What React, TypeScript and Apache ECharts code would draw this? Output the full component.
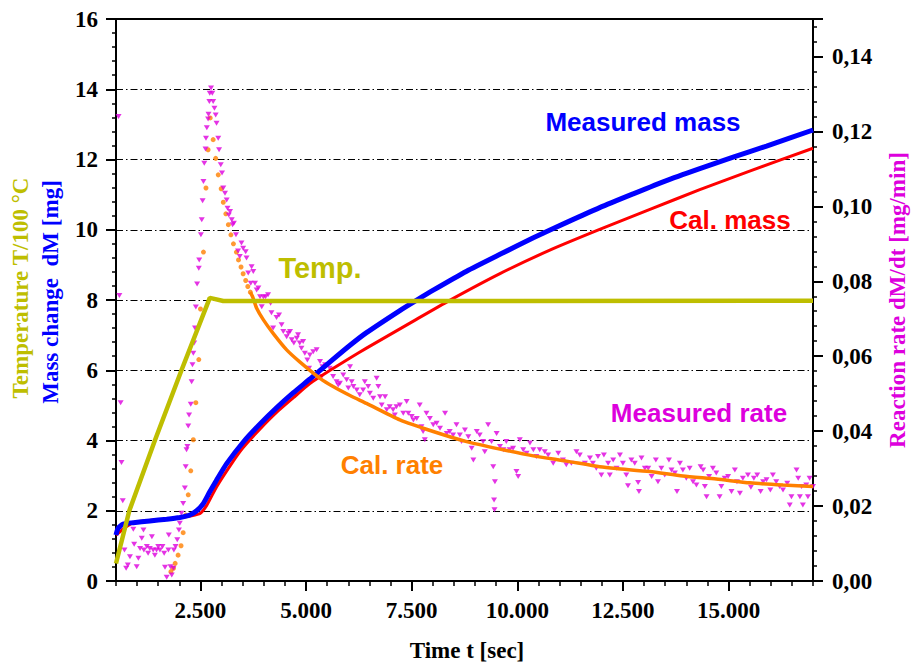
import React, { useEffect, useRef } from "react";
import * as echarts from "echarts";

// ---------- DATA ----------
const xMajorTicks = [2500, 5000, 7500, 10000, 12500, 15000];

const tempT = [500, 815, 1420, 2050, 2720, 2800, 3040, 3500, 17000];
const tempV = [0.5, 2.0, 4.0, 6.0, 8.06, 8.04, 7.97, 7.97, 7.98];

const measMassT = [500, 550, 670, 910, 1300, 1700, 2010, 2250, 2410, 2570, 2720, 2880, 3120, 3510, 3910, 4300, 4700, 5090, 5560, 6040, 6430, 7220, 7610, 8010, 8800, 9590, 10380, 11170, 11950, 12740, 13530, 14320, 15110, 15900, 17000];
const measMassV = [1.31, 1.5, 1.62, 1.66, 1.71, 1.76, 1.81, 1.88, 2.0, 2.21, 2.54, 2.87, 3.34, 3.95, 4.47, 4.93, 5.36, 5.75, 6.23, 6.71, 7.07, 7.7, 7.99, 8.28, 8.82, 9.3, 9.77, 10.21, 10.63, 11.02, 11.4, 11.74, 12.07, 12.38, 12.84];

const calMassT = [500, 910, 1700, 2010, 2250, 2490, 2650, 2880, 3280, 3510, 3910, 4300, 4700, 5090, 5560, 6040, 6430, 7540, 8400, 9590, 10770, 11950, 13140, 14320, 15500, 17000];
const calMassV = [1.31, 1.66, 1.76, 1.8, 1.85, 1.92, 2.16, 2.68, 3.42, 3.8, 4.33, 4.8, 5.22, 5.62, 5.99, 6.35, 6.63, 7.4, 7.99, 8.75, 9.42, 10.01, 10.58, 11.14, 11.67, 12.32];

const calRateDotT = [1800, 1860, 1900, 1970, 2040, 2090, 2150, 2210, 2270, 2330, 2390, 2460, 2500, 2570, 2630, 2680, 2730, 2800, 2860, 2920, 2990, 3040, 3100, 3160, 3220, 3280, 3350, 3400, 3460, 3510, 3570, 3620, 3680];
const calRateDotV = [0.0025, 0.0034, 0.0047, 0.0069, 0.0094, 0.0129, 0.0176, 0.023, 0.0294, 0.0377, 0.0476, 0.0591, 0.0726, 0.0878, 0.1049, 0.1151, 0.1236, 0.1178, 0.1128, 0.1084, 0.1047, 0.1011, 0.098, 0.0951, 0.0924, 0.09, 0.0878, 0.0857, 0.0838, 0.082, 0.0802, 0.0786, 0.0771];

const calRateT = [3680, 3740, 3830, 3990, 4220, 4540, 4850, 5330, 5640, 6040, 6430, 7220, 8010, 8800, 9590, 10380, 11160, 11950, 12350, 13140, 13920, 14710, 15500, 16290, 17000];
const calRateV = [0.0771, 0.0757, 0.0728, 0.0697, 0.0661, 0.0617, 0.0585, 0.0541, 0.0519, 0.0495, 0.0474, 0.043, 0.0399, 0.0372, 0.0352, 0.0334, 0.032, 0.0305, 0.03, 0.0292, 0.028, 0.0272, 0.0262, 0.0256, 0.0252];

const rateT = [560, 580, 610, 630, 660, 670, 700, 740, 780, 830, 910, 930, 990, 1030, 1070, 1110, 1150, 1160, 1230, 1260, 1300, 1350, 1380, 1420, 1460, 1500, 1540, 1600, 1640, 1660, 1700, 1740, 1750, 1790, 1820, 1860, 1870, 1910, 1950, 1990, 2010, 2050, 2090, 2130, 2150, 2170, 2190, 2210, 2230, 2270, 2290, 2310, 2330, 2350, 2370, 2390, 2420, 2460, 2470, 2510, 2530, 2550, 2570, 2590, 2620, 2630, 2650, 2680, 2690, 2710, 2720, 2750, 2780, 2800, 2830, 2860, 2880, 2920, 2940, 2980, 3010, 3040, 3080, 3120, 3140, 3170, 3200, 3240, 3260, 3290, 3340, 3390, 3430, 3470, 3510, 3570, 3590, 3630, 3690, 3710, 3750, 3790, 3830, 3870, 3910, 3950, 3990, 4040, 4100, 4160, 4180, 4220, 4300, 4360, 4420, 4460, 4540, 4580, 4620, 4660, 4710, 4780, 4810, 4850, 4890, 4930, 4970, 5030, 5070, 5090, 5170, 5250, 5330, 5370, 5390, 5450, 5560, 5640, 5720, 5760, 5800, 5880, 5960, 6000, 6040, 6080, 6120, 6200, 6270, 6350, 6390, 6470, 6510, 6590, 6670, 6710, 6750, 6790, 6870, 6910, 6980, 7060, 7100, 7140, 7220, 7300, 7380, 7420, 7500, 7540, 7620, 7690, 7730, 7770, 7810, 7850, 7930, 8010, 8090, 8170, 8290, 8330, 8400, 8480, 8560, 8640, 8680, 8760, 8840, 8920, 8960, 9040, 9110, 9190, 9230, 9310, 9390, 9430, 9450, 9460, 9470, 9510, 9590, 9670, 9740, 9820, 9900, 9980, 10020, 10060, 10140, 10220, 10300, 10380, 10450, 10530, 10650, 10730, 10850, 10970, 11080, 11160, 11280, 11400, 11480, 11600, 11720, 11790, 11870, 11910, 11990, 12050, 12150, 12190, 12270, 12350, 12430, 12500, 12580, 12620, 12700, 12780, 12860, 12880, 12940, 13020, 13100, 13180, 13280, 13330, 13410, 13490, 13590, 13650, 13730, 13780, 13850, 13920, 14000, 14080, 14160, 14240, 14340, 14400, 14440, 14480, 14540, 14630, 14710, 14790, 14830, 14910, 14990, 15070, 15150, 15200, 15270, 15340, 15460, 15530, 15600, 15680, 15760, 15820, 15900, 15990, 16050, 16130, 16210, 16290, 16390, 16450, 16490, 16610, 16650, 16690, 16730, 16760, 16840, 16880, 16920, 17000];
const rateV = [0.124, 0.0762, 0.0476, 0.0316, 0.0214, 0.0136, 0.0083, 0.0034, 0.0043, 0.0065, 0.0138, 0.0098, 0.0038, 0.0061, 0.0087, 0.0114, 0.0136, 0.0083, 0.0092, 0.0074, 0.0087, 0.0118, 0.0083, 0.0069, 0.0083, 0.0092, 0.0083, 0.0092, 0.0074, 0.0037, 0.001, 0.0083, 0.0123, 0.0038, 0.0016, 0.0034, 0.0083, 0.0092, 0.011, 0.0136, 0.0154, 0.0181, 0.0207, 0.0248, 0.0305, 0.035, 0.0359, 0.0414, 0.0443, 0.0472, 0.0532, 0.0577, 0.0608, 0.0635, 0.0675, 0.0731, 0.0793, 0.0835, 0.0857, 0.0924, 0.0964, 0.1015, 0.1066, 0.1115, 0.1153, 0.1182, 0.121, 0.1233, 0.1246, 0.128, 0.1302, 0.1316, 0.1302, 0.128, 0.1262, 0.1244, 0.1222, 0.1182, 0.1151, 0.1111, 0.1089, 0.1049, 0.1035, 0.1017, 0.0995, 0.0977, 0.0986, 0.0964, 0.0951, 0.0955, 0.0924, 0.0881, 0.0866, 0.0902, 0.0888, 0.0879, 0.0862, 0.0822, 0.0795, 0.0839, 0.0826, 0.0795, 0.0777, 0.0782, 0.0759, 0.0732, 0.0758, 0.0759, 0.0764, 0.0741, 0.0716, 0.0675, 0.0703, 0.071, 0.0684, 0.0666, 0.0652, 0.0661, 0.0666, 0.0644, 0.0635, 0.0648, 0.0657, 0.0635, 0.0621, 0.0639, 0.0608, 0.059, 0.0568, 0.0603, 0.0612, 0.0617, 0.0586, 0.0546, 0.0572, 0.0577, 0.0568, 0.0546, 0.0532, 0.0523, 0.0528, 0.055, 0.0537, 0.0515, 0.0572, 0.0532, 0.0519, 0.051, 0.0497, 0.051, 0.0532, 0.0519, 0.0501, 0.0488, 0.0541, 0.0519, 0.0492, 0.047, 0.0492, 0.0457, 0.0465, 0.0457, 0.0443, 0.0465, 0.047, 0.0448, 0.0479, 0.0448, 0.0439, 0.043, 0.0434, 0.047, 0.0412, 0.0399, 0.0377, 0.0448, 0.0434, 0.0417, 0.0421, 0.0408, 0.0448, 0.0394, 0.0399, 0.039, 0.0417, 0.039, 0.0372, 0.0403, 0.0385, 0.0354, 0.0323, 0.0399, 0.039, 0.0372, 0.0345, 0.0417, 0.0372, 0.0305, 0.0216, 0.019, 0.0265, 0.0394, 0.0359, 0.035, 0.0372, 0.035, 0.0354, 0.0292, 0.0279, 0.0377, 0.035, 0.0341, 0.0368, 0.035, 0.0332, 0.035, 0.0345, 0.0336, 0.0314, 0.0341, 0.0323, 0.031, 0.0314, 0.0345, 0.0336, 0.0314, 0.0328, 0.0314, 0.0301, 0.0332, 0.0283, 0.0336, 0.0314, 0.0283, 0.0323, 0.0301, 0.0336, 0.0314, 0.0283, 0.0254, 0.0323, 0.0314, 0.0263, 0.0239, 0.0328, 0.0301, 0.0301, 0.0279, 0.0323, 0.0265, 0.0301, 0.0283, 0.0323, 0.0296, 0.0288, 0.0239, 0.0314, 0.0296, 0.0274, 0.0301, 0.0265, 0.0256, 0.0305, 0.0296, 0.0252, 0.0225, 0.0279, 0.0301, 0.0288, 0.0225, 0.0252, 0.0274, 0.0279, 0.0239, 0.0296, 0.0265, 0.0234, 0.0274, 0.0283, 0.025, 0.0274, 0.0283, 0.0239, 0.0265, 0.027, 0.0243, 0.0283, 0.0265, 0.0252, 0.0243, 0.0261, 0.0203, 0.0225, 0.0296, 0.0274, 0.0225, 0.0252, 0.0203, 0.0256, 0.0225, 0.0274, 0.0252];

// ---------- STYLE ----------
const OLIVE = "#bebe00";
const BLUE = "#0000ff";
const RED = "#ff0000";
const MAGENTA = "#dd00dd";
const ORANGE = "#ff8000";
const SERIF = "'Liberation Serif', 'Times New Roman', serif";
const SANS = "'Liberation Sans', Arial, sans-serif";

const zip = (a: number[], b: number[]) => a.map((v, i) => [v, b[i]]);

const tickFont = { fontFamily: SERIF, fontWeight: "bold" as const, fontSize: 23, color: "#000" };

function buildOption() {
  return {
    animation: false,
    grid: { left: 116, right: 98, top: 19, bottom: 85, show: true, borderColor: "#000", borderWidth: 2, backgroundColor: "transparent" },
    xAxis: [
      {
        type: "value", min: 500, max: 17000, interval: 500,
        axisLine: { show: true, onZero: false, lineStyle: { color: "#000", width: 2 } },
        axisTick: { show: true, length: 5, lineStyle: { color: "#000", width: 1.5 } },
        axisLabel: {
          ...tickFont, margin: 18,
          formatter: (v: number) => (xMajorTicks.includes(v) ? (v / 1000).toFixed(3) : ""),
        },
        splitLine: { show: false },
      },
      {
        type: "value", min: 500, max: 17000, position: "bottom",
        axisLine: { show: false, onZero: false },
        axisTick: { show: true, length: 10, customValues: xMajorTicks, lineStyle: { color: "#000", width: 2 } },
        axisLabel: { show: false },
        splitLine: { show: false },
      },
    ],
    yAxis: [
      {
        type: "value", position: "left", min: 0, max: 16, interval: 2,
        axisLine: { show: true, lineStyle: { color: "#000", width: 2 } },
        axisTick: { show: true, length: 10, lineStyle: { color: "#000", width: 2 } },
        minorTick: { show: true, splitNumber: 5, length: 4, lineStyle: { color: "#000", width: 1.5 } },
        axisLabel: { ...tickFont, margin: 18 },
        splitLine: { show: true, lineStyle: { color: "#000", width: 1, type: [7, 3, 1.5, 3] } },
      },
      {
        type: "value", position: "right", min: 0, max: 0.15, interval: 0.02,
        axisLine: { show: true, lineStyle: { color: "#000", width: 2 } },
        axisTick: { show: true, length: 10, lineStyle: { color: "#000", width: 2 } },
        axisLabel: {
          ...tickFont, margin: 19,
          formatter: (v: number) => (v > 0.141 ? "" : v.toFixed(2).replace(".", ",")),
        },
        splitLine: { show: false },
      },
      {
        type: "value", position: "right", min: 0, max: 0.15, interval: 0.004,
        axisLine: { show: false },
        axisTick: { show: true, length: 4, lineStyle: { color: "#000", width: 1.5 } },
        axisLabel: { show: false },
        splitLine: { show: false },
      },
    ],
    series: [
      {
        name: "Cal. mass", type: "line", xAxisIndex: 0, yAxisIndex: 0, silent: true,
        data: zip(calMassT, calMassV), showSymbol: false, smooth: 0.2,
        lineStyle: { color: RED, width: 3 },
      },
      {
        name: "Measured mass", type: "line", xAxisIndex: 0, yAxisIndex: 0, silent: true,
        data: zip(measMassT, measMassV), showSymbol: false, smooth: 0.2,
        lineStyle: { color: BLUE, width: 5 },
      },
      {
        name: "Cal. rate", type: "line", xAxisIndex: 0, yAxisIndex: 1, silent: true,
        data: zip(calRateT, calRateV), showSymbol: false, smooth: 0.2,
        lineStyle: { color: ORANGE, width: 3.5 },
      },
      {
        name: "Cal. rate dots", type: "scatter", xAxisIndex: 0, yAxisIndex: 1, silent: true,
        data: zip(calRateDotT, calRateDotV), symbol: "circle", symbolSize: 5,
        itemStyle: { color: ORANGE },
      },
      {
        name: "Measured rate", type: "scatter", xAxisIndex: 0, yAxisIndex: 1, silent: true,
        data: zip(rateT, rateV), symbol: "triangle", symbolRotate: 180, symbolSize: [6, 5],
        itemStyle: { color: MAGENTA },
      },
      {
        name: "Temp.", type: "line", xAxisIndex: 0, yAxisIndex: 0, silent: true,
        data: zip(tempT, tempV), showSymbol: false,
        lineStyle: { color: OLIVE, width: 4.5 },
      },
    ],
    graphic: [
      { type: "text", x: 20, y: 288, rotation: Math.PI / 2, silent: true,
        style: { text: "Temperature T/100 °C", fill: OLIVE, font: `bold 23px ${SERIF}`, align: "center", verticalAlign: "middle" } },
      { type: "text", x: 50, y: 292, rotation: Math.PI / 2, silent: true,
        style: { text: "Mass change  dM [mg]", fill: BLUE, font: `bold 23px ${SERIF}`, align: "center", verticalAlign: "middle" } },
      { type: "text", x: 897, y: 300, rotation: Math.PI / 2, silent: true,
        style: { text: "Reaction rate dM/dt [mg/min]", fill: MAGENTA, font: `bold 23px ${SERIF}`, align: "center", verticalAlign: "middle" } },
      { type: "text", x: 467, y: 650, silent: true,
        style: { text: "Time t [sec]", fill: "#000", font: `bold 23px ${SERIF}`, align: "center", verticalAlign: "middle" } },
      { type: "text", x: 643, y: 122, silent: true,
        style: { text: "Measured mass", fill: BLUE, font: `bold 26px ${SANS}`, align: "center", verticalAlign: "middle" } },
      { type: "text", x: 730, y: 220, silent: true,
        style: { text: "Cal. mass", fill: RED, font: `bold 26px ${SANS}`, align: "center", verticalAlign: "middle" } },
      { type: "text", x: 320, y: 268, silent: true,
        style: { text: "Temp.", fill: OLIVE, font: `bold 29px ${SANS}`, align: "center", verticalAlign: "middle" } },
      { type: "text", x: 699, y: 413, silent: true,
        style: { text: "Measured rate", fill: MAGENTA, font: `bold 26px ${SANS}`, align: "center", verticalAlign: "middle" } },
      { type: "text", x: 392, y: 465, silent: true,
        style: { text: "Cal. rate", fill: ORANGE, font: `bold 26px ${SANS}`, align: "center", verticalAlign: "middle" } },
    ],
  };
}

export default function App() {
  const ref = useRef<HTMLDivElement>(null);
  useEffect(() => {
    if (!ref.current) return;
    const chart = echarts.init(ref.current, null, { renderer: "svg" });
    chart.setOption(buildOption() as any);
    return () => chart.dispose();
  }, []);
  return (
    <div
      ref={ref}
      style={{ position: "absolute", left: 0, top: 0, width: 911, height: 666, background: "#fff" }}
    />
  );
}
